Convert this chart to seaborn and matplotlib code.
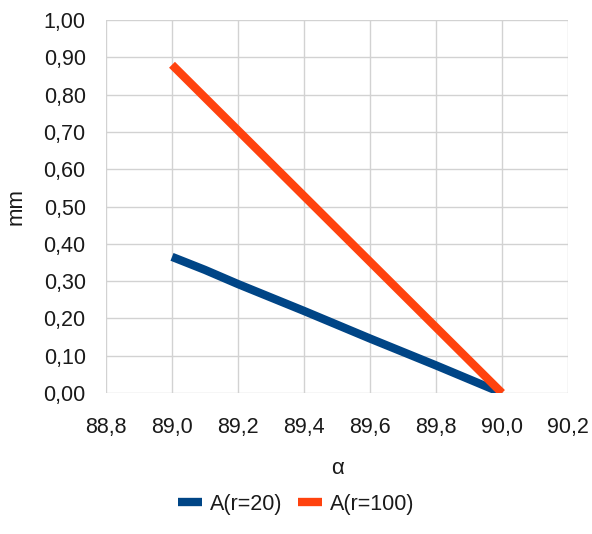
import matplotlib
matplotlib.use("Agg")
import matplotlib.pyplot as plt
import seaborn as sns
import pandas as pd
from matplotlib.lines import Line2D

# ---- data ----
alpha = [89.0, 89.1, 89.2, 89.3, 89.4, 89.5, 89.6, 89.7, 89.8, 89.9, 90.0]
a_r20 = [0.365, 0.330, 0.292, 0.256, 0.220, 0.183, 0.146, 0.110, 0.074, 0.037, 0.000]
a_r100 = [0.880, 0.792, 0.704, 0.616, 0.528, 0.440, 0.352, 0.264, 0.176, 0.088, 0.000]
series_names = ["A(r=20)", "A(r=100)"]
x_ticks = [88.8, 89.0, 89.2, 89.4, 89.6, 89.8, 90.0, 90.2]
x_tick_labels = ["88,8", "89,0", "89,2", "89,4", "89,6", "89,8", "90,0", "90,2"]
y_ticks = [0.0, 0.1, 0.2, 0.3, 0.4, 0.5, 0.6, 0.7, 0.8, 0.9, 1.0]
y_tick_labels = ["0,00", "0,10", "0,20", "0,30", "0,40", "0,50",
                 "0,60", "0,70", "0,80", "0,90", "1,00"]
x_label = "α"
y_label = "mm"

df = pd.concat([
    pd.DataFrame({"alpha": alpha, "value": a_r20, "series": series_names[0]}),
    pd.DataFrame({"alpha": alpha, "value": a_r100, "series": series_names[1]}),
], ignore_index=True)

colors = ["#004586", "#ff420e"]
grid_c = "#d2d2d2"

sns.set_style("white")
plt.rcParams["font.family"] = ["Liberation Sans", "DejaVu Sans"]

fig = plt.figure(figsize=(5.92, 5.34), dpi=100)
W, H = 592, 534
ax = fig.add_axes([106 / W, 1 - 393 / H, (568 - 106) / W, (393 - 20) / H])

sns.lineplot(data=df, x="alpha", y="value", hue="series", palette=colors,
             linewidth=6, ax=ax, legend=False, zorder=3)
for ln in ax.lines:
    ln.set_solid_capstyle("butt")

ax.set_xlim(88.8, 90.2)
ax.set_ylim(0, 1.0)
ax.set_xticks(x_ticks)
ax.set_xticklabels(x_tick_labels)
ax.set_yticks(y_ticks)
ax.set_yticklabels(y_tick_labels)
ax.grid(True, color=grid_c, linewidth=1.0)
ax.set_axisbelow(True)
for s in ax.spines.values():
    s.set_visible(False)
ax.tick_params(axis="both", length=8.6, width=1.0, color=grid_c,
               labelsize=15.5, labelcolor="#1a1a1a")
ax.tick_params(axis="y", pad=6)
ax.tick_params(axis="x", pad=9)

ax.set_xlabel(x_label, fontsize=16, color="#1a1a1a", labelpad=14)
ax.set_ylabel(y_label, fontsize=16, color="#1a1a1a", labelpad=12)

handles = [Line2D([0], [0], color=c, linewidth=6, solid_capstyle="butt") for c in colors]
fig.legend(handles, series_names, loc="lower center", bbox_to_anchor=(0.5, 0.0),
           ncol=2, frameon=False, fontsize=15.5, handlelength=1.15,
           handletextpad=0.35, columnspacing=0.7, labelcolor="#1a1a1a")

fig.savefig("out.png", dpi=100)
